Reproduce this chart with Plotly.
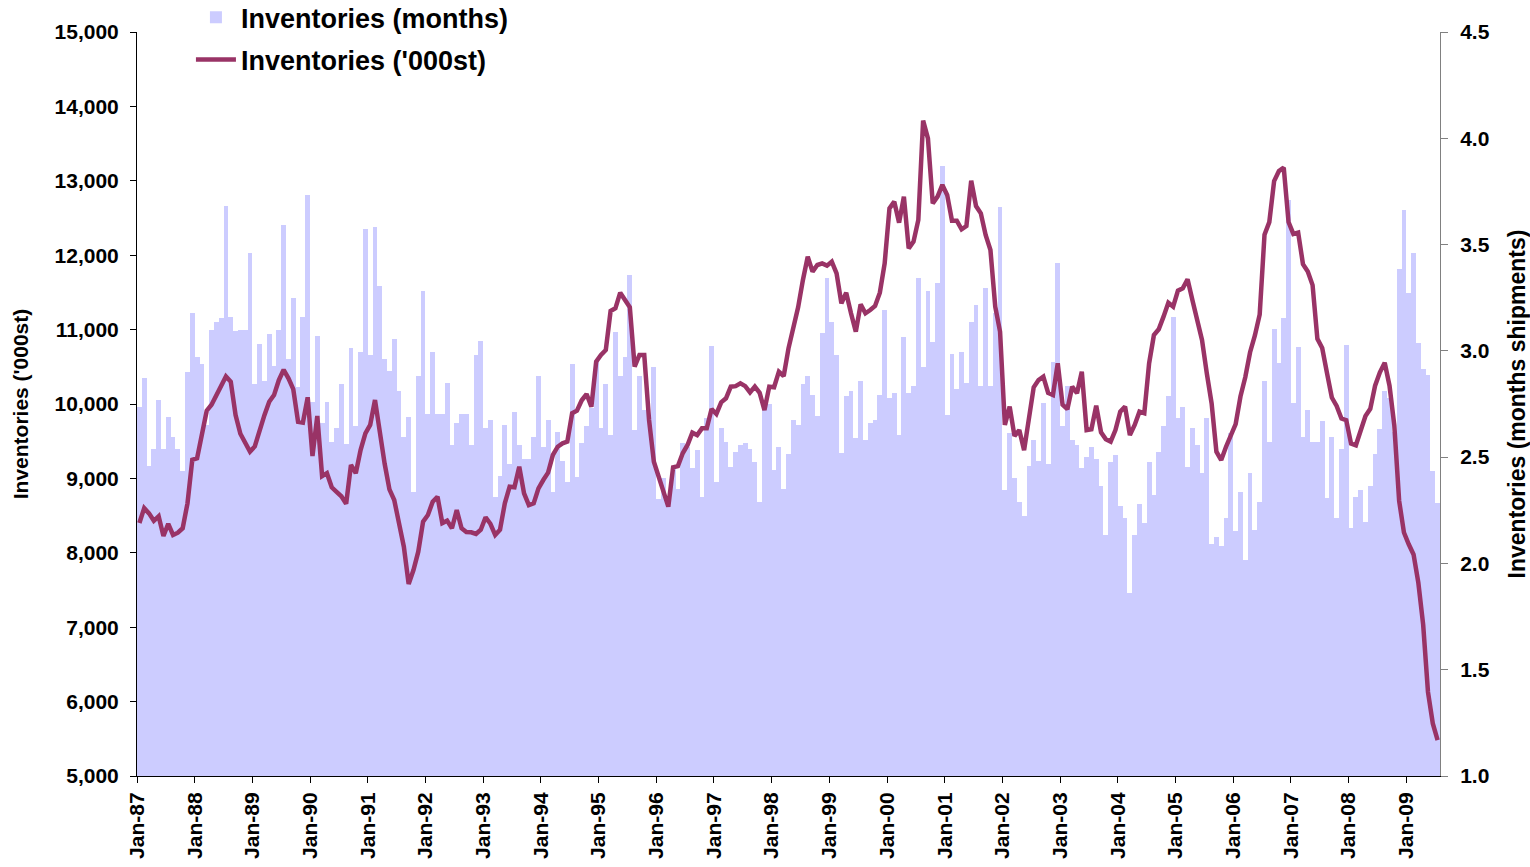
import plotly.graph_objects as go
import pandas as pd

# ---- data ----
months = pd.date_range("1987-01-01", periods=271, freq="MS").strftime("%b-%y").tolist()

inv_months = [
    2.737, 2.874, 2.458, 2.538, 2.769, 2.538, 2.690, 2.593, 2.538, 2.435, 2.902, 3.177,
    2.970, 2.937, 2.650, 3.098, 3.137, 3.153, 3.683, 3.158, 3.093, 3.100, 3.100, 3.460,
    2.844, 3.033, 2.858, 3.081, 2.929, 3.100, 3.590, 2.960, 3.247, 2.829, 3.159, 3.735,
    2.760, 3.071, 2.659, 2.760, 2.571, 2.635, 2.844, 2.560, 3.012, 2.647, 2.993, 3.572,
    2.981, 3.581, 3.304, 2.960, 2.905, 3.057, 2.811, 2.593, 2.690, 2.335, 2.882, 3.280,
    2.701, 2.993, 2.705, 2.701, 2.849, 2.559, 2.659, 2.705, 2.705, 2.559, 2.981, 3.048,
    2.635, 2.676, 2.311, 2.413, 2.650, 2.469, 2.714, 2.557, 2.491, 2.491, 2.593, 2.882,
    2.549, 2.676, 2.335, 2.620, 2.483, 2.382, 2.937, 2.405, 2.565, 2.647, 2.730, 2.950,
    2.635, 2.844, 2.604, 3.090, 2.882, 2.970, 3.358, 2.628, 2.882, 2.722, 2.700, 2.926,
    2.303, 2.400, 2.300, 2.455, 2.349, 2.565, 2.549, 2.447, 2.534, 2.311, 2.682, 3.024,
    2.382, 2.635, 2.570, 2.455, 2.526, 2.557, 2.565, 2.538, 2.479, 2.288, 2.749, 2.749,
    2.439, 2.549, 2.349, 2.515, 2.676, 2.650, 2.844, 2.882, 2.792, 2.694, 3.082, 3.341,
    3.137, 2.981, 2.518, 2.788, 2.811, 2.589, 2.858, 2.581, 2.659, 2.676, 2.792, 3.192,
    2.780, 2.800, 2.604, 3.067, 2.800, 2.836, 3.341, 2.926, 3.280, 3.040, 3.321, 3.870,
    2.700, 2.984, 2.819, 2.993, 2.848, 3.137, 3.216, 2.836, 3.294, 2.836, 3.177, 3.678,
    2.345, 2.612, 2.400, 2.290, 2.223, 2.459, 2.581, 2.483, 2.756, 2.470, 2.946, 3.415,
    2.647, 2.836, 2.581, 2.557, 2.447, 2.502, 2.549, 2.491, 2.366, 2.134, 2.479, 2.510,
    2.270, 2.215, 1.859, 2.134, 2.278, 2.192, 2.479, 2.322, 2.526, 2.647, 2.788, 3.159,
    2.682, 2.737, 2.455, 2.635, 2.557, 2.424, 2.682, 2.090, 2.126, 2.082, 2.212, 2.612,
    2.154, 2.337, 2.017, 2.425, 2.155, 2.289, 2.856, 2.569, 3.102, 2.944, 3.156, 3.708,
    2.757, 3.020, 2.595, 2.721, 2.569, 2.569, 2.672, 2.307, 2.595, 2.214, 2.540, 3.028,
    2.169, 2.313, 2.346, 2.194, 2.362, 2.514, 2.633, 2.810, 2.777, 2.620, 3.383, 3.665,
    3.270, 3.461, 3.037, 2.915, 2.885, 2.435, 2.283,
]

inv_kst = [
    8400, 8600, 8530, 8430, 8490, 8226, 8390, 8240, 8270, 8330, 8665, 9250,
    9270, 9600, 9910, 9990, 10110, 10230, 10370, 10300, 9850, 9600, 9470, 9360,
    9430, 9650, 9850, 10030, 10120, 10320, 10460, 10345, 10200, 9760, 9750, 10090,
    9300, 9840, 9030, 9070, 8880, 8820, 8760, 8660, 9180, 9070, 9380, 9606,
    9718, 10054, 9606, 9200, 8853, 8710, 8396, 8082, 7581, 7769, 8015, 8418,
    8508, 8687, 8754, 8400, 8432, 8330, 8575, 8330, 8280, 8275, 8253, 8310,
    8477, 8390, 8240, 8310, 8665, 8889, 8880, 9158, 8799, 8640, 8665, 8867,
    8978, 9077, 9315, 9426, 9471, 9494, 9875, 9910, 10050, 10134, 9964, 10569,
    10659, 10726, 11250, 11286, 11496, 11398, 11300, 10502, 10659, 10659, 9785, 9225,
    9023, 8844, 8620, 9149, 9165, 9337, 9449, 9615, 9583, 9673, 9673, 9933,
    9866, 10022, 10076, 10233, 10240, 10278, 10240, 10155, 10233, 10150, 9919, 10233,
    10225, 10434, 10376, 10748, 10995, 11300, 11667, 11980, 11779, 11868, 11890, 11860,
    11913, 11756, 11353, 11496, 11219, 10972, 11340, 11219, 11263, 11317, 11496, 11890,
    12630, 12720, 12437, 12787, 12092, 12182, 12473, 13808, 13571, 12697, 12787, 12944,
    12810, 12464, 12464, 12348, 12392, 13002, 12661, 12563, 12272, 12070, 11308, 10972,
    9718, 9964, 9570, 9650, 9380, 9850, 10225, 10322, 10367, 10150, 10120, 10547,
    9990, 9930, 10233, 10145, 10434, 9650, 9660, 9977, 9620, 9525, 9494, 9650,
    9897, 9964, 9583, 9718, 9897, 9875, 10547, 10927, 11004, 11174, 11362, 11309,
    11523, 11555, 11676, 11398, 11107, 10860, 10412, 10009, 9359, 9247, 9426, 9570,
    9730, 10100, 10359, 10696, 10922, 11204, 12275, 12445, 12997, 13131, 13177, 12445,
    12286, 12304, 11880, 11780, 11598, 10876, 10753, 10414, 10087, 9974, 9805, 9783,
    9468, 9445, 9625, 9839, 9935, 10246, 10426, 10555, 10246, 9710, 8700, 8273,
    8114, 7978, 7595, 7032, 6129, 5707, 5481,
]

tick_labels = [
    "Jan-87", "Jan-88", "Jan-89", "Jan-90", "Jan-91", "Jan-92", "Jan-93", "Jan-94",
    "Jan-95", "Jan-96", "Jan-97", "Jan-98", "Jan-99", "Jan-00", "Jan-01", "Jan-02",
    "Jan-03", "Jan-04", "Jan-05", "Jan-06", "Jan-07", "Jan-08", "Jan-09",
]

# ---- scales ----
xpos = [i + 0.5 for i in range(len(months))]          # month centres
tickvals = [months.index(t) for t in tick_labels]      # month starts

FONT = "Liberation Sans, Arial, sans-serif"

fig = go.Figure()
fig.add_trace(go.Bar(
    x=xpos, y=inv_months, width=1.0, customdata=months,
    marker=dict(color="#CCCCFF", line=dict(width=0)),
    name="Inventories (months)", yaxis="y", legendgroup="a",
    hovertemplate="%{customdata}: %{y:.2f}<extra></extra>",
))
fig.add_trace(go.Scatter(
    x=xpos, y=inv_kst, mode="lines", customdata=months,
    line=dict(color="#993366", width=4.5),
    name="Inventories ('000st)", yaxis="y2", legendgroup="b",
    hovertemplate="%{customdata}: %{y:,}<extra></extra>",
))

fig.update_layout(
    width=1530, height=867,
    margin=dict(l=137, r=90, t=32, b=91, autoexpand=False),
    paper_bgcolor="white", plot_bgcolor="white",
    font=dict(family=FONT, size=21, color="black", weight="bold"),
    bargap=0,
    showlegend=True,
    legend=dict(
        x=0.0414, y=1.052, xanchor="left", yanchor="top",
        bgcolor="rgba(0,0,0,0)", font=dict(size=27, weight="bold"),
        tracegroupgap=4, itemwidth=40,
    ),
    xaxis=dict(
        range=[0, len(months)], tickmode="array", tickvals=tickvals, ticktext=tick_labels,
        tickangle=-90, ticks="outside", ticklen=6, tickcolor="black", tickwidth=1,
        showline=True, linecolor="black", linewidth=1, showgrid=False, zeroline=False,
        ticklabelstandoff=1, tickfont=dict(size=21, weight="bold"),
    ),
    yaxis=dict(
        side="right", range=[1, 4.5], dtick=0.5, tick0=1, tickformat=".1f",
        ticks="outside", ticklen=7, tickcolor="#808080", showline=True,
        linecolor="#808080", linewidth=1, showgrid=False, zeroline=False,
        ticklabelstandoff=8, tickfont=dict(size=21, weight="bold"),
        title=dict(text="Inventories (months shipments)", standoff=20,
                   font=dict(size=23, weight="bold")),
    ),
    yaxis2=dict(
        overlaying="y", side="left", range=[5000, 15000], dtick=1000, tick0=5000,
        tickformat=",", ticks="outside", ticklen=6, tickcolor="black",
        showline=True, linecolor="black", linewidth=1, showgrid=False, zeroline=False,
        ticklabelstandoff=7, tickfont=dict(size=21, weight="bold"),
        title=dict(text="Inventories ('000st)", standoff=20,
                   font=dict(size=21, weight="bold")),
    ),
)

fig.write_html(
    "out.html",
    config={"displayModeBar": False},
    post_script="document.body.style.margin='0';document.body.style.overflow='hidden';",
)
